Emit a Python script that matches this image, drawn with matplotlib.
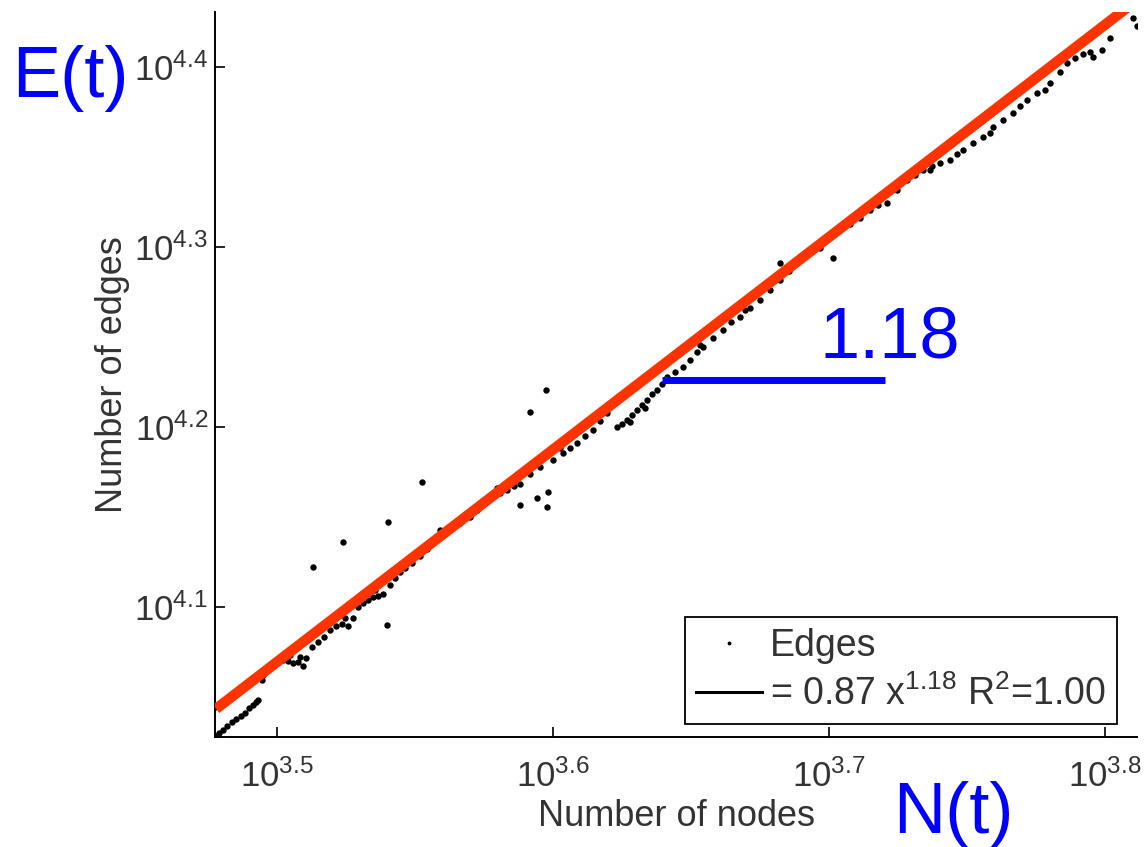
import numpy as np
import matplotlib
matplotlib.use('Agg')
import matplotlib.pyplot as plt
from matplotlib.ticker import FixedLocator, FixedFormatter, NullLocator

plt.rcParams['font.family'] = ['Liberation Sans', 'DejaVu Sans']
plt.rcParams['mathtext.fontset'] = 'custom'
plt.rcParams['mathtext.rm'] = 'Liberation Sans'
plt.rcParams['mathtext.it'] = 'Liberation Sans:italic'
plt.rcParams['mathtext.default'] = 'regular'

# log10 of nodes / edges
log_nodes = [3.4779, 3.4790, 3.4804, 3.4819, 3.4837, 3.4851, 3.4870, 3.4884, 3.4899, 3.4913,
             3.4924, 3.4931, 3.4949, 3.4967, 3.4986, 3.5004, 3.5022, 3.5040, 3.5058, 3.5076,
             3.5094, 3.5105, 3.5127, 3.5149, 3.5170, 3.5192, 3.5214, 3.5236, 3.5257, 3.5275,
             3.5293, 3.5312, 3.5330, 3.5348, 3.5366, 3.5384, 3.5409, 3.5428, 3.5446, 3.5464,
             3.5489, 3.5518, 3.5543, 3.5565, 3.5591, 3.5616, 3.5638, 3.5663, 3.5699, 3.5725,
             3.5746, 3.5772, 3.5808, 3.5833, 3.5859, 3.5880, 3.5917, 3.5953, 3.6000, 3.6036,
             3.6062, 3.6087, 3.6116, 3.6145, 3.6170, 3.6196, 3.6214, 3.6232, 3.6250, 3.6268,
             3.6286, 3.6304, 3.6322, 3.6341, 3.6359, 3.6377, 3.6395, 3.6413, 3.6442, 3.6471,
             3.6496, 3.6522, 3.6543, 3.6580, 3.6616, 3.6645, 3.6678, 3.6714, 3.6750, 3.6786,
             3.6822, 3.6855, 3.6884, 3.6913, 3.6942, 3.6975, 3.7004, 3.7040, 3.7076, 3.7112,
             3.7149, 3.7178, 3.7210, 3.7246, 3.7283, 3.7312, 3.7341, 3.7373, 3.7402, 3.7438,
             3.7464, 3.7486, 3.7522, 3.7558, 3.7594, 3.7630, 3.7667, 3.7692, 3.7717, 3.7754,
             3.7801, 3.7837, 3.7862, 3.7891, 3.7920, 3.7946, 3.7957, 3.7989, 3.8018, 3.8101,
             3.8116,
             3.4946, 3.5047, 3.5083, 3.5246, 3.5355, 3.5591, 3.5797, 3.6025, 3.6188, 3.6279,
             3.6333, 3.6533, 3.6696, 3.6967, 3.7366, 3.7583, 3.7783]
log_edges = [4.0283, 4.0300, 4.0317, 4.0339, 4.0361, 4.0378, 4.0394, 4.0411, 4.0439, 4.0456,
             4.0472, 4.0483, 4.0622, 4.0650, 4.0678, 4.0694, 4.0706, 4.0700, 4.0689, 4.0694,
             4.0672, 4.0717, 4.0778, 4.0806, 4.0833, 4.0872, 4.0894, 4.0906, 4.0894, 4.0939,
             4.1000, 4.1022, 4.1039, 4.1056, 4.1061, 4.1072, 4.1122, 4.1161, 4.1194, 4.1217,
             4.1244, 4.1283, 4.1322, 4.1372, 4.1394, 4.1422, 4.1444, 4.1467, 4.1500, 4.1539,
             4.1572, 4.1611, 4.1633, 4.1650, 4.1672, 4.1683, 4.1739, 4.1778, 4.1817, 4.1856,
             4.1883, 4.1911, 4.1950, 4.1983, 4.2033, 4.2078, 4.2122, 4.2000, 4.2017, 4.2039,
             4.2067, 4.2094, 4.2122, 4.2150, 4.2183, 4.2206, 4.2239, 4.2278, 4.2306, 4.2333,
             4.2372, 4.2417, 4.2444, 4.2494, 4.2539, 4.2583, 4.2611, 4.2661, 4.2706, 4.2761,
             4.2817, 4.2867, 4.2911, 4.2950, 4.2983, 4.3022, 4.3056, 4.3094, 4.3128, 4.3161,
             4.3206, 4.3233, 4.3244, 4.3317, 4.3372, 4.3400, 4.3428, 4.3450, 4.3467, 4.3483,
             4.3517, 4.3539, 4.3578, 4.3611, 4.3667, 4.3706, 4.3744, 4.3783, 4.3817, 4.3856,
             4.3911, 4.3972, 4.4022, 4.4050, 4.4072, 4.4083, 4.4056, 4.4094, 4.4161, 4.4272,
             4.4228,
             4.0594, 4.0733, 4.0722, 4.0939, 4.1094, 4.1428, 4.1661, 4.1883, 4.2094, 4.2028,
             4.2106, 4.2456, 4.2650, 4.2994, 4.3428, 4.3633, 4.3872]

# scattered points away from the main band
out_log_nodes = [3.5130, 3.5239, 3.5402, 3.5399, 3.5525, 3.5917, 3.5975, 3.5880, 3.5942,
                 3.5982, 3.5978, 3.6822, 3.7014]
out_log_edges = [4.1222, 4.1361, 4.1472, 4.0900, 4.1694, 4.2083, 4.2206, 4.1567, 4.1606,
                 4.1639, 4.1556, 4.2911, 4.2939]

fit_coef = 0.87
fit_exp = 1.18
r2 = 1.00

x_ticks = [3.5, 3.6, 3.7, 3.8]
y_ticks = [4.1, 4.2, 4.3, 4.4]

nodes = 10 ** np.array(log_nodes + out_log_nodes)
edges = 10 ** np.array(log_edges + out_log_edges)

fig = plt.figure(figsize=(11.45, 8.47), dpi=100)
ax = fig.add_axes([0.1878, 0.1299, 0.8052, 0.8559])
ax.set_xscale('log')
ax.set_yscale('log')

pts, = ax.plot(nodes, edges, 'o', color='k', ms=4.6, mew=0, label='Edges', zorder=2)

fx = np.array([nodes.min(), nodes.max()])
fy = fit_coef * fx ** fit_exp
fit_line, = ax.plot(fx, fy, color='k', lw=2.2, zorder=3,
                    label='= %.2f x$^{%.2f}$ R$^{2}$=%.2f' % (fit_coef, fit_exp, r2))
ax.plot(fx, fy, color='#ff3300', lw=7.5, solid_capstyle='butt', zorder=4)

ax.set_xlim(10 ** 3.4775, 10 ** 3.8116)
ax.set_ylim(10 ** 4.0278, 10 ** 4.4306)

ax.xaxis.set_major_locator(FixedLocator([10 ** v for v in x_ticks]))
ax.xaxis.set_major_formatter(FixedFormatter(['$10^{%.1f}$' % v for v in x_ticks]))
ax.yaxis.set_major_locator(FixedLocator([10 ** v for v in y_ticks]))
ax.yaxis.set_major_formatter(FixedFormatter(['$10^{%.1f}$' % v for v in y_ticks]))
ax.xaxis.set_minor_locator(NullLocator())
ax.yaxis.set_minor_locator(NullLocator())

ax.tick_params(direction='in', length=7, width=1.2, labelsize=25, labelcolor='#333333')
ax.tick_params(axis='x', pad=16)
ax.tick_params(axis='y', pad=5)
for s in ['top', 'right']:
    ax.spines[s].set_visible(False)
for s in ['left', 'bottom']:
    ax.spines[s].set_linewidth(1.4)

ax.set_xlabel('Number of nodes', fontsize=26, color='#333333')
ax.set_ylabel('Number of edges', fontsize=26, color='#333333')
ax.xaxis.set_label_coords(0.5, -0.085)
ax.yaxis.set_label_coords(-0.092, 0.5)

leg = ax.legend(handles=[pts, fit_line], loc='lower right', bbox_to_anchor=(0.978, 0.018),
                borderaxespad=0, fontsize=27, frameon=True, fancybox=False,
                edgecolor='k', framealpha=1, handlelength=1.75, handletextpad=0.2,
                borderpad=0.3, labelspacing=0.3, markerscale=0.6)
leg.get_frame().set_linewidth(1.3)
for t in leg.get_texts():
    t.set_color('#333333')

# slope annotation
ax.plot([10 ** 3.6395, 10 ** 3.7203], [10 ** 4.2261, 10 ** 4.2261], color='#0000ff', lw=5,
        solid_capstyle='butt', zorder=5)
fig.text(0.7773, 0.5785, '1.18', color='#0000ff', fontsize=52, ha='center', va='baseline')
fig.text(0.0105, 0.8855, 'E(t)', color='#0000ff', fontsize=52, ha='left', va='baseline')
fig.text(0.7800, 0.0165, 'N(t)', color='#0000ff', fontsize=52, ha='left', va='baseline')

fig.savefig('out.png', dpi=100)
